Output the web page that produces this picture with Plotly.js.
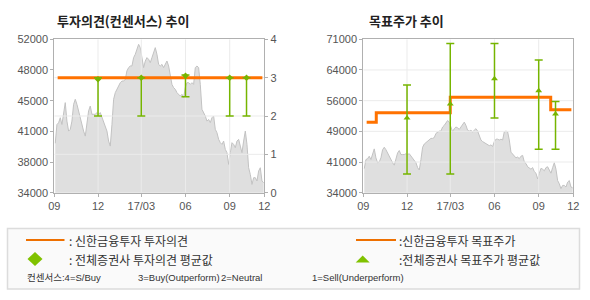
<!DOCTYPE html>
<html><head><meta charset="utf-8">
<script src="https://cdn.plot.ly/plotly-3.0.1.min.js"></script>
<style>html,body{margin:0;padding:0;background:#fff}#chart{width:590px;height:300px}</style>
</head><body><div id="chart"></div>
<script>
// ---- data ----
const priceStart = '2016-09-03';
const priceStepDays = 3.469;
const price = [
 39800, 42000, 42200, 42800, 42000, 43600, 44570, 42400, 41230, 41430,
 42400, 44370, 44960, 44370, 43580, 42600, 42000, 41230, 40640, 42000,
 43600, 44170, 43200, 43200, 43200, 43400, 43200, 43400, 42800, 42200,
 41800, 41230, 40060, 39470, 42000, 44960, 45740, 46130, 46520, 46910,
 47100, 47100, 47300, 48300,
 48680, 48870, 48870, 49850, 50240, 50830, 51410, 51020, 49850, 48680,
 49450, 49850, 49650, 49260, 49850, 50440, 51020, 50240, 49060, 48870,
 49060, 48680, 49060, 49450, 48870, 47890, 46710, 46330, 46130, 45740,
 45540, 45340, 45540, 45150, 46330, 46910, 46910, 46710, 46910, 46710,
 48680, 48870, 48680, 46710, 43780, 43390, 43000, 42400, 42600, 42220,
 42800, 43000, 41430, 41040, 40260, 39870, 39670, 40060, 39080, 38700,
 37320, 38700, 39870, 39670, 39280, 40060, 40260, 39470, 38700, 40060,
 41230, 39670, 36930, 36150, 34970, 35760, 35760, 35370, 36540, 36930,
 35370, 35170
];
const xRange = ['2016-09-01', '2017-11-12'];
const xTickVals = ['2016-09-01', '2016-12-01', '2017-03-01', '2017-06-01', '2017-09-01', '2017-11-12'];
const xTickText = ['09', '12', '17/03', '06', '09', '12'];

const priceTickVals = [34000, 37600, 41200, 44800, 48400, 52000];
const priceTickText = ['34000', '38000', '41000', '45000', '48000', '52000'];
const opinionTickVals = [0, 1, 2, 3, 4];

const opinionDates = ['2016-09-08', '2017-11-08'];
const opinionValues = [3, 3];

const consensusDates = ['2016-12-01', '2017-03-01', '2017-06-01', '2017-09-01', '2017-10-06'];
const consensusMean = [2.96, 3.0, 3.05, 3.0, 3.0];
const consensusMax = [3.0, 3.0, 3.07, 3.0, 3.0];
const consensusMin = [2.0, 2.0, 2.5, 2.0, 2.0];

const targetTickVals = [34000, 41400, 48800, 56200, 63600, 71000];
const targetTickText = ['34000', '41000', '49000', '56000', '64000', '71000'];
const targetDates = ['2016-09-08', '2016-09-28', '2017-03-01', '2017-09-26', '2017-11-08'];
const targetValues = [51000, 53300, 57000, 54000, 54000];

const targetAvgDates = ['2016-12-01', '2017-03-01', '2017-06-01', '2017-09-01', '2017-10-06'];
const targetAvgMean = [52000, 55400, 61500, 58600, 53000];
const targetAvgMax = [60000, 70000, 70000, 66000, 56000];
const targetAvgMin = [38500, 38500, 52000, 44500, 44500];

const titleLeft = '투자의견(컨센서스) 추이';
const titleRight = '목표주가 추이';
const legendTexts = [': 신한금융투자 투자의견', ': 전체증권사 투자의견 평균값', ':신한금융투자 목표주가', ':전체증권사 목표주가 평균값'];
const footerTexts = ['컨센서스:4=S/Buy', '3=Buy(Outperform)', '2=Neutral', '1=Sell(Underperform)'];

// ---- build ----
const W = 590, H = 300;
const px = x => x / W, py = y => 1 - y / H;
const t0 = Date.parse(priceStart + 'T00:00:00Z');
const fmt = ms => new Date(ms).toISOString().slice(0, 19).replace('T', ' ');
const priceDates = price.map((_, i) => fmt(t0 + i * priceStepDays * 86400000));

const ORANGE = '#ff7200', GREEN = '#76b500', FILL = '#dfdfdf', EDGE = '#c2c2c2', GRID = '#ebebeb', FRAME = '#b0b0b0';
const tickFont = {family: 'Liberation Sans, Arial, sans-serif', size: 11, color: '#555'};

function gridTrace(xa, ya, xs, ys, xr, yr) {
  const gx = [], gy = [];
  xs.forEach(v => { gx.push(v, v, null); gy.push(yr[0], yr[1], null); });
  ys.forEach(v => { gx.push(xr[0], xr[1], null); gy.push(v, v, null); });
  return {x: gx, y: gy, xaxis: xa, yaxis: ya, mode: 'lines', line: {color: GRID, width: 1}, hoverinfo: 'skip', showlegend: false};
}
const innerX = xTickVals.slice(1, -1);

const traces = [
  // left chart
  {x: priceDates, y: price, xaxis: 'x', yaxis: 'y', mode: 'lines', fill: 'tozeroy', fillcolor: FILL, line: {color: EDGE, width: 1}, hoverinfo: 'skip'},
  gridTrace('x', 'y', innerX, [], xRange, [34000, 52000]),
  gridTrace('x', 'y2', [], opinionTickVals.slice(1, -1), xRange, [0, 4]),
  {x: opinionDates, y: opinionValues, xaxis: 'x', yaxis: 'y2', mode: 'lines', line: {color: ORANGE, width: 3}},
  {x: consensusDates, y: consensusMean, xaxis: 'x', yaxis: 'y2', mode: 'markers',
   marker: {symbol: 'diamond', size: 5, color: GREEN},
   error_y: {type: 'data', symmetric: false,
     array: consensusMax.map((v, i) => v - consensusMean[i]),
     arrayminus: consensusMin.map((v, i) => consensusMean[i] - v),
     color: GREEN, thickness: 1.5, width: 4}},
  // right chart
  {x: priceDates, y: price, xaxis: 'x2', yaxis: 'y3', mode: 'lines', fill: 'tozeroy', fillcolor: FILL, line: {color: EDGE, width: 1}, hoverinfo: 'skip'},
  gridTrace('x2', 'y3', innerX, targetTickVals.slice(1, -1), xRange, [34000, 71000]),
  {x: targetDates, y: targetValues, xaxis: 'x2', yaxis: 'y3', mode: 'lines', line: {color: ORANGE, width: 3, shape: 'hv'}},
  {x: targetAvgDates, y: targetAvgMean, xaxis: 'x2', yaxis: 'y3', mode: 'markers',
   marker: {symbol: 'triangle-up', size: 6, color: GREEN},
   error_y: {type: 'data', symmetric: false,
     array: targetAvgMax.map((v, i) => v - targetAvgMean[i]),
     arrayminus: targetAvgMean.map((v, i) => v - targetAvgMin[i]),
     color: GREEN, thickness: 1.5, width: 4}}
];

const xCommon = {type: 'date', range: xRange, tickvals: xTickVals, ticktext: xTickText, showgrid: false,
  showline: true, linecolor: FRAME, linewidth: 1, mirror: true, ticks: 'outside', ticklen: 3, tickcolor: FRAME,
  tickfont: tickFont, zeroline: false, fixedrange: true};
const yDom = [1 - 192.7 / H, 1 - 39.3 / H];

const legendFont = {family: 'Noto Sans CJK KR, sans-serif', size: 12, color: '#333'};
const footFont = {family: 'Liberation Sans, Noto Sans CJK KR, sans-serif', size: 9.5, color: '#333'};
const ann = (text, x, y, font, anchor) => ({text, x: px(x), y: py(y), xref: 'paper', yref: 'paper', xanchor: anchor || 'left', yanchor: 'middle', showarrow: false, font});

const layout = {
  width: W, height: H, margin: {l: 0, r: 0, t: 0, b: 0}, paper_bgcolor: '#fff', plot_bgcolor: 'rgba(0,0,0,0)',
  showlegend: false,
  xaxis: Object.assign({}, xCommon, {domain: [54.3 / W, 264.3 / W], anchor: 'y'}),
  yaxis: {domain: yDom, range: [34000, 52000], tickvals: priceTickVals, ticktext: priceTickText, showgrid: false,
    showline: true, linecolor: FRAME, ticks: 'outside', ticklen: 3, tickcolor: FRAME, tickfont: tickFont, zeroline: false, anchor: 'x', fixedrange: true},
  yaxis2: {domain: yDom, range: [0, 4], tickvals: opinionTickVals, overlaying: 'y', side: 'right', anchor: 'x', showgrid: false,
    showline: true, linecolor: FRAME, ticks: 'outside', ticklen: 3, tickcolor: FRAME, tickfont: tickFont, zeroline: false, fixedrange: true},
  xaxis2: Object.assign({}, xCommon, {domain: [363.3 / W, 573.3 / W], anchor: 'y3'}),
  yaxis3: {domain: yDom, range: [34000, 71000], tickvals: targetTickVals, ticktext: targetTickText, showgrid: false,
    showline: true, linecolor: FRAME, mirror: true, ticks: 'outside', ticklen: 3, tickcolor: FRAME, tickfont: tickFont, zeroline: false, anchor: 'x2', fixedrange: true},
  shapes: [
    {type: 'rect', xref: 'paper', yref: 'paper', x0: px(7.5), x1: px(579.5), y0: py(228.5), y1: py(289), line: {color: '#dcdcdc', width: 1.5}, fillcolor: '#fafafa', layer: 'below'},
    {type: 'line', xref: 'paper', yref: 'paper', x0: px(26), x1: px(64.5), y0: py(240), y1: py(240), line: {color: '#ee7000', width: 2}},
    {type: 'line', xref: 'paper', yref: 'paper', x0: px(356), x1: px(396), y0: py(240), y1: py(240), line: {color: '#ee7000', width: 2}},
    {type: 'path', xref: 'paper', yref: 'paper', path: `M ${px(35)} ${py(252)} L ${px(42.5)} ${py(259)} L ${px(35)} ${py(266)} L ${px(27.5)} ${py(259)} Z`, fillcolor: '#80c200', line: {width: 0}},
    {type: 'path', xref: 'paper', yref: 'paper', path: `M ${px(362.7)} ${py(255.5)} L ${px(369.7)} ${py(262.5)} L ${px(355.7)} ${py(262.5)} Z`, fillcolor: '#80c200', line: {width: 0}}
  ],
  annotations: [
    ann('<b>' + titleLeft + '</b>', 55, 20.5, {family: 'Noto Sans CJK KR, sans-serif', size: 13, color: '#222'}),
    ann('<b>' + titleRight + '</b>', 367, 20.5, {family: 'Noto Sans CJK KR, sans-serif', size: 13, color: '#222'}),
    ann(legendTexts[0], 67, 240, legendFont),
    ann(legendTexts[1], 67, 259, legendFont),
    ann(legendTexts[2], 397, 240, legendFont),
    ann(legendTexts[3], 397, 259, legendFont),
    ann(footerTexts[0], 25, 277, footFont),
    ann(footerTexts[1], 136, 277, footFont),
    ann(footerTexts[2], 219, 277, footFont),
    ann(footerTexts[3], 310, 277, footFont)
  ]
};

Plotly.newPlot('chart', traces, layout, {staticPlot: true, displayModeBar: false});
</script></body></html>
